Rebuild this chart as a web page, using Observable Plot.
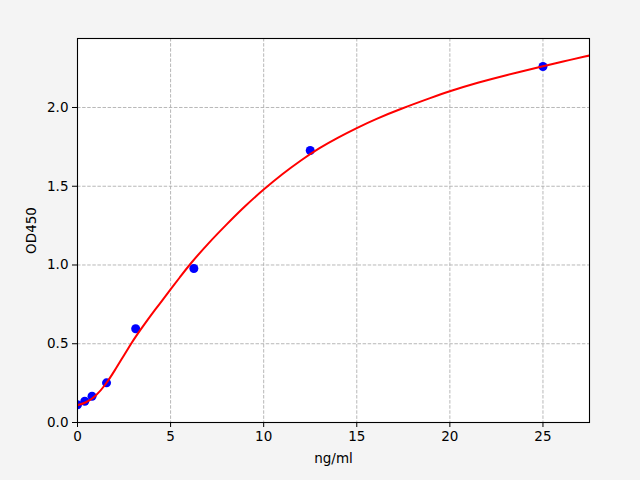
<!DOCTYPE html>
<html>
<head>
<meta charset="utf-8">
<script src="https://cdn.jsdelivr.net/npm/d3@7"></script>
<script src="https://cdn.jsdelivr.net/npm/@observablehq/plot@0.6"></script>
<style>
  body { margin: 0; background: #f4f4f4; }
  #chart { width: 640px; height: 480px; }
</style>
</head>
<body>
<div id="chart"></div>
<script>
// standard points (concentration, OD)
const conc = [0, 0.39, 0.78, 1.56, 3.125, 6.25, 12.5, 25]
const od = [0.112, 0.135, 0.167, 0.252, 0.595, 0.978, 1.727, 2.26]

// fitted curve
const fitX = [0, 0.43, 0.97, 1.5, 2.0, 2.5, 2.85, 3.12, 3.66, 4.19, 4.55, 5.0, 5.5, 6, 7, 8, 9, 10, 11, 12, 13, 14, 15, 16, 17.4, 19, 20, 21.5, 23, 25, 26, 27.5]
const fitY = [0.11, 0.124, 0.165, 0.238, 0.33, 0.428, 0.495, 0.545, 0.635, 0.72, 0.775, 0.845, 0.922, 1.0, 1.135, 1.257, 1.375, 1.48, 1.578, 1.665, 1.744, 1.81, 1.87, 1.926, 1.993, 2.062, 2.104, 2.158, 2.205, 2.262, 2.29, 2.33]

const xTicks = [0, 5, 10, 15, 20, 25]
const yTicks = [0, 0.5, 1.0, 1.5, 2.0]

const points = conc.map((c, i) => ({x: c, y: od[i]}))
const fit = fitX.map((c, i) => ({x: c, y: fitY[i]}))

const chart = Plot.plot({
  width: 640,
  height: 480,
  marginLeft: 77,
  marginRight: 51,
  marginTop: 38,
  marginBottom: 58,
  style: {
    background: "transparent",
    color: "#000",
    fontFamily: "DejaVu Sans",
    fontSize: "13.5px",
    overflow: "visible"
  },
  x: {domain: [0, 27.5]},
  y: {domain: [0, 2.438]},
  marks: [
    Plot.frame({fill: "white", stroke: null}),
    Plot.gridX(xTicks, {stroke: "#b0b0b0", strokeOpacity: 1, strokeDasharray: "3.5,1.6", strokeWidth: 0.9}),
    Plot.gridY(yTicks, {stroke: "#b0b0b0", strokeOpacity: 1, strokeDasharray: "3.5,1.6", strokeWidth: 0.9}),
    Plot.axisX(xTicks, {
      tickSize: 5, tickPadding: 4, tickFormat: d3.format("d"),
      label: "ng/ml", labelAnchor: "center", labelArrow: "none", labelOffset: 40
    }),
    Plot.axisY(yTicks, {
      tickSize: 5, tickPadding: 4, tickFormat: d3.format(".1f"),
      label: "OD450", labelAnchor: "center", labelArrow: "none", labelOffset: 51
    }),
    Plot.dot(points, {x: "x", y: "y", fill: "#0000ff", r: 4.5, clip: true}),
    Plot.line(fit, {x: "x", y: "y", stroke: "#ff0000", strokeWidth: 2, curve: "basis", clip: true}),
    Plot.frame({stroke: "#000", strokeWidth: 1.1})
  ]
})
d3.select('#chart').append(() => chart)
</script>
</body>
</html>
